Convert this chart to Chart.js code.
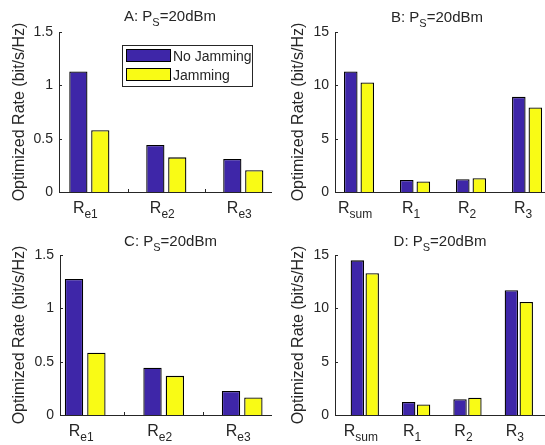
<!DOCTYPE html>
<html>
<head>
<meta charset="utf-8">
<script src="https://cdn.jsdelivr.net/npm/chart.js@4.4.0/dist/chart.umd.min.js"></script>
<style>
  html, body { margin: 0; padding: 0; background: #fff; overflow: hidden; width: 545px; height: 445px; }
  canvas { position: absolute; }
</style>
</head>
<body>
<canvas id="chartA" width="272" height="222" style="left:0;top:0"></canvas>
<canvas id="chartB" width="273" height="222" style="left:272px;top:0"></canvas>
<canvas id="chartC" width="272" height="223" style="left:0;top:222px"></canvas>
<canvas id="chartD" width="273" height="223" style="left:272px;top:222px"></canvas>
<script>
// ---- data ----
var seriesNames = ['No Jamming', 'Jamming']
var rateSymbol = 'R'
var eveCats = ['e1', 'e2', 'e3']            // subscripts of R
var userCats = ['sum', '1', '2', '3']
var panelLetters = ['A', 'B', 'C', 'D']
var powerSymbol = 'P', powerSub = 'S', powerValue = '=20dBm'
var yTitle = 'Optimized Rate (bit/s/Hz)'

var aNoJam = [1.13, 0.44, 0.31]
var aJam   = [0.58, 0.325, 0.205]
var bNoJam = [11.3, 1.12, 1.2, 8.92]
var bJam   = [10.27, 0.99, 1.3, 7.92]
var cNoJam = [1.275, 0.443, 0.226]
var cJam   = [0.584, 0.367, 0.164]
var dNoJam = [14.5, 1.22, 1.47, 11.7]
var dJam   = [13.3, 0.98, 1.62, 10.6]

var eveTicks = [0, 0.5, 1, 1.5]
var userTicks = [0, 5, 10, 15]
var eveMarks = [1.5, 2.5]     // small x tick marks between groups

// ---- styling ----
var FONT = '"Liberation Sans", Arial, Helvetica, sans-serif'
var axisColor = '#262626'
var barColors = ['#3E26A8', '#F9FB15']
Chart.defaults.font.family = FONT
Chart.defaults.color = axisColor

var panelDecor = {
  id: 'panelDecor',
  afterDraw: function(chart, args, o) {
    var ctx = chart.ctx, area = chart.chartArea
    var xs = chart.scales.x, ys = chart.scales.y
    ctx.save()
    ctx.strokeStyle = axisColor
    ctx.lineWidth = 1
    // inward tick marks
    ys.ticks.forEach(function(t) {
      var y = Math.round(ys.getPixelForValue(t.value)) + 0.5
      ctx.beginPath(); ctx.moveTo(area.left, y); ctx.lineTo(area.left + 3, y); ctx.stroke()
    })
    o.marks.forEach(function(m) {
      var x = Math.round(xs.getPixelForValue(m)) + 0.5
      ctx.beginPath(); ctx.moveTo(x, area.bottom); ctx.lineTo(x, area.bottom - 3); ctx.stroke()
    })
    // category labels R_sub
    ctx.fillStyle = axisColor
    ctx.textBaseline = 'alphabetic'
    ctx.textAlign = 'left'
    o.cats.forEach(function(sub, i) {
      ctx.font = '16px ' + FONT
      var w1 = ctx.measureText(rateSymbol).width
      ctx.font = '12px ' + FONT
      var w2 = ctx.measureText(sub).width
      var x0 = xs.getPixelForValue(i + 1) + o.labelShift - (w1 + w2) / 2
      var yb = area.bottom + 21
      ctx.font = '16px ' + FONT
      ctx.fillText(rateSymbol, x0, yb)
      ctx.font = '12px ' + FONT
      ctx.fillText(sub, x0 + w1, yb + 5)
    })
    // title  "X: P_S=20dBm"
    var part1 = o.letter + ': ' + powerSymbol
    ctx.font = '15px ' + FONT
    var t1 = ctx.measureText(part1).width
    var t3 = ctx.measureText(powerValue).width
    ctx.font = '11px ' + FONT
    var t2 = ctx.measureText(powerSub).width
    var tx = (area.left + area.right) / 2 + o.titleShift - (t1 + t2 + t3) / 2
    ctx.font = '15px ' + FONT
    ctx.fillText(part1, tx, o.titleY)
    ctx.fillText(powerValue, tx + t1 + t2, o.titleY)
    ctx.font = '11px ' + FONT
    ctx.fillText(powerSub, tx + t1, o.titleY + 5)
    // legend box
    if (o.legend) {
      var L = o.legend
      ctx.fillStyle = '#fff'
      ctx.fillRect(L.x, L.y, L.w, L.h)
      ctx.strokeStyle = axisColor
      ctx.strokeRect(L.x + 0.5, L.y + 0.5, L.w, L.h)
      chart.data.datasets.forEach(function(ds, i) {
        var sy = L.y + 4 + i * 19
        ctx.fillStyle = ds.backgroundColor
        ctx.fillRect(L.x + 4, sy, 45, 13)
        ctx.strokeStyle = '#000'
        ctx.strokeRect(L.x + 4.5, sy + 0.5, 44, 12)
        ctx.fillStyle = axisColor
        ctx.font = '14px ' + FONT
        ctx.fillText(ds.label, L.x + 51, sy + 12)
      })
    }
    ctx.restore()
  }
}

function makePanel(id, letter, cats, noJam, jam, yTicks, marks, p) {
  var datasets = [noJam, jam].map(function(vals, k) {
    return {
      label: seriesNames[k],
      data: vals.map(function(v, i) { return { x: i + 1, y: v } }),
      backgroundColor: barColors[k],
      borderColor: '#000',
      borderWidth: 1.3,
      borderSkipped: 'start',
      categoryPercentage: p.cat,
      barPercentage: p.bar
    }
  })
  new Chart(document.getElementById(id), {
    type: 'bar',
    data: { datasets: datasets },
    options: {
      responsive: false,
      animation: false,
      layout: { padding: { left: 0, top: p.top, right: p.right, bottom: p.bottom } },
      plugins: {
        legend: { display: false },
        tooltip: { enabled: false },
        panelDecor: {
          letter: letter, cats: cats, marks: marks, legend: p.legend,
          labelShift: -4, titleShift: p.titleShift, titleY: p.titleY
        }
      },
      scales: {
        x: {
          type: 'linear', min: p.xmin, max: p.xmax, offset: false,
          afterBuildTicks: function(s) { s.ticks = cats.map(function(c, i) { return { value: i + 1 } }) },
          afterFit: function(s) { s.height = 0 },
          ticks: { display: false },
          grid: { display: false, drawTicks: false },
          border: { display: true, color: axisColor, width: 1 }
        },
        y: {
          min: 0, max: yTicks[yTicks.length - 1],
          afterBuildTicks: function(s) { s.ticks = yTicks.map(function(v) { return { value: v } }) },
          afterFit: function(s) { s.width = p.yWidth },
          ticks: { font: { size: 14 }, color: axisColor, padding: 6, callback: function(v) { return String(v) } },
          grid: { display: false, drawTicks: false },
          border: { display: true, color: axisColor, width: 1 },
          title: { display: true, text: yTitle, color: axisColor, font: { size: 16 }, padding: { top: p.titlePad, bottom: 0 } }
        }
      }
    },
    plugins: [panelDecor]
  })
}

makePanel('chartA', panelLetters[0], eveCats, aNoJam, aJam, eveTicks, eveMarks,
  { top: 32, right: 1, bottom: 30, yWidth: 59, xmin: 0.606, xmax: 3.36, cat: 0.57, bar: 0.83, titlePad: 10, titleY: 21, titleShift: 5,
    legend: { x: 122, y: 45, w: 130, h: 41 } })
makePanel('chartB', panelLetters[1], userCats, bNoJam, bJam, userTicks, [],
  { top: 32, right: 0, bottom: 30, yWidth: 63, xmin: 0.571, xmax: 4.32, cat: 0.59, bar: 0.82, titlePad: 17, titleY: 22, titleShift: -3 })
makePanel('chartC', panelLetters[2], eveCats, cNoJam, cJam, eveTicks, eveMarks,
  { top: 33, right: 1, bottom: 30, yWidth: 60, xmin: 0.679, xmax: 3.367, cat: 0.57, bar: 0.82, titlePad: 10, titleY: 24, titleShift: 5 })
makePanel('chartD', panelLetters[3], userCats, dNoJam, dJam, userTicks, [],
  { top: 33, right: 0, bottom: 30, yWidth: 63, xmin: 0.42, xmax: 4.51, cat: 0.58, bar: 0.9, titlePad: 17, titleY: 24, titleShift: 0 })
</script>
</body>
</html>
